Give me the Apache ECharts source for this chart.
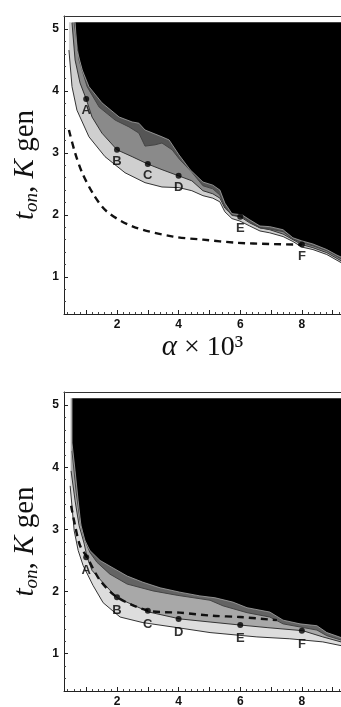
<!DOCTYPE html>
<html><head><meta charset="utf-8">
<script src="https://cdn.jsdelivr.net/npm/echarts@6/dist/echarts.min.js"></script>
<style>html,body{margin:0;padding:0;background:#fff}#c{width:341px;height:707px}</style>
</head><body><div id="c"></div>
<script>
// ---------- axes ----------
const xMin = 0.28, xMax = 9.27;
const yMin = 0.4, yMax = 5.21;
const regionTop = 5.11;
const xTickLabels = [2, 4, 6, 8];
const xMajorTicks = [1, 2, 3, 4, 5, 6, 7, 8, 9];
const yTickLabels = [1, 2, 3, 4, 5];
const xMinorTicks = [0.4,0.6,0.8,1.2,1.4,1.6,1.8,2.2,2.4,2.6,2.8,3.2,3.4,3.6,3.8,4.2,4.4,4.6,4.8,5.2,5.4,5.6,5.8,6.2,6.4,6.6,6.8,7.2,7.4,7.6,7.8,8.2,8.4,8.6,8.8,9.2];
const yMinorTicks = [0.6,0.8,1.2,1.4,1.6,1.8,2.2,2.4,2.6,2.8,3.2,3.4,3.6,3.8,4.2,4.4,4.6,4.8,5.2];

// ---------- top panel ----------
const topKx = [0.64,0.70,0.87,1.09,1.51,2.07,2.49,2.71,2.91,3.46,3.69,4.01,4.37,4.79,5.11,5.34,5.50,5.73,6.06,6.31,6.64,6.96,7.39,7.71,8.00,8.36,8.81,9.14,9.27];
const topKy = [5.11,4.66,4.34,4.07,3.81,3.58,3.50,3.48,3.37,3.26,3.21,2.97,2.73,2.53,2.48,2.40,2.19,2.02,2.00,1.92,1.82,1.81,1.76,1.63,1.58,1.53,1.44,1.35,1.32];
const topDx = [0.61,0.77,1.03,1.42,1.94,2.39,2.71,2.91,3.23,3.46,3.79,4.04,4.43,4.79,5.11,5.34,5.50,5.73,6.06,6.31,6.64,6.96,7.39,7.71,8.00,8.36,8.81,9.27];
const topDy = [5.10,4.50,4.07,3.74,3.53,3.42,3.32,3.11,3.13,3.16,3.05,2.89,2.69,2.47,2.42,2.32,2.13,1.99,1.97,1.89,1.79,1.77,1.73,1.61,1.55,1.50,1.42,1.29];
const topMx = [0.54,0.64,0.80,1.00,1.19,1.51,2.00,2.49,3.00,3.46,4.00,4.43,4.79,5.11,5.34,5.50,5.73,6.00,6.31,6.64,6.96,7.39,7.71,8.00,8.36,8.81,9.27];
const topMy = [5.10,4.50,4.13,3.87,3.58,3.32,3.05,2.94,2.82,2.73,2.63,2.55,2.39,2.34,2.27,2.11,2.00,1.97,1.87,1.79,1.76,1.69,1.60,1.52,1.47,1.39,1.26];
const topLx = [0.44,0.54,0.70,1.09,1.61,2.26,2.91,3.46,4.01,4.43,4.79,5.11,5.34,5.50,5.73,5.99,6.31,6.64,6.96,7.39,7.71,8.00,8.36,8.81,9.27];
const topLy = [4.66,4.07,3.69,3.26,2.94,2.68,2.52,2.45,2.44,2.39,2.31,2.27,2.21,2.05,1.94,1.90,1.82,1.74,1.71,1.65,1.57,1.48,1.44,1.36,1.23];
const topDashX = [0.44,0.64,0.87,1.25,1.68,2.52,3.82,4.79,5.89,6.96,8.00];
const topDashY = [3.37,3.00,2.68,2.32,2.05,1.81,1.65,1.60,1.55,1.53,1.52];
const topPtX = [1, 2, 3, 4, 6, 8];
const topPtY = [3.87, 3.05, 2.82, 2.63, 1.97, 1.52];

// ---------- bottom panel ----------
const botKx = [0.54,0.54,0.64,0.74,0.83,0.96,1.12,1.45,1.87,2.33,2.84,3.40,4.04,4.69,5.18,5.76,6.22,6.96,7.39,7.94,8.49,8.81,9.27];
const botKy = [5.11,4.39,3.94,3.46,3.06,2.82,2.66,2.50,2.38,2.25,2.15,2.06,1.99,1.93,1.90,1.83,1.74,1.67,1.54,1.48,1.45,1.34,1.26];
const botDx = [0.54,0.67,0.80,0.93,1.12,1.35,1.77,2.33,3.17,3.95,5.02,5.44,6.22,6.96,7.39,7.94,8.49,8.81,9.27];
const botDy = [4.26,3.62,3.14,2.86,2.63,2.47,2.28,2.12,2.01,1.94,1.86,1.77,1.66,1.59,1.48,1.43,1.38,1.29,1.22];
const botMx = [0.51,0.64,0.77,0.93,1.03,1.19,1.55,2.00,3.04,4.04,5.02,6.02,6.87,8.03,8.68,9.27];
const botMy = [3.94,3.46,3.06,2.78,2.55,2.34,2.14,1.90,1.67,1.56,1.51,1.46,1.42,1.37,1.27,1.19];
const botLx = [0.48,0.61,0.74,0.90,1.22,1.55,2.10,2.84,3.95,5.02,6.54,7.61,8.68,9.27];
const botLy = [3.70,2.98,2.66,2.42,2.10,1.82,1.59,1.50,1.42,1.34,1.27,1.24,1.19,1.13];
const botDashX = [0.51,0.64,0.80,1.03,1.45,2.00,3.04,4.04,5.11,5.99,7.19];
const botDashY = [3.38,3.06,2.74,2.55,2.18,1.91,1.69,1.66,1.61,1.59,1.54];
const botPtX = [1, 2, 3, 4, 6, 8];
const botPtY = [2.55, 1.91, 1.69, 1.56, 1.46, 1.37];

const pointNames = ['A', 'B', 'C', 'D', 'E', 'F'];

// ---------- build ----------
const zip = (xs, ys) => xs.map((x, i) => [x, ys[i]]);
const sans = "'Liberation Sans', Arial, Helvetica, sans-serif";
const serif = "'Liberation Serif', 'Times New Roman', serif";

function band(xs, ys, fill, lineColor, lineW, g) {
  return { type: 'line', xAxisIndex: g, yAxisIndex: g, data: zip(xs, ys), symbol: 'none',
    lineStyle: { color: lineColor, width: lineW }, areaStyle: { color: fill, origin: 'end', opacity: 1 },
    silent: true, animation: false };
}
function dashed(xs, ys, g) {
  return { type: 'line', xAxisIndex: g, yAxisIndex: g, data: zip(xs, ys), symbol: 'none', smooth: 0.3,
    lineStyle: { color: '#111', width: 2.4, type: [7, 5] }, silent: true, animation: false, z: 5 };
}
function pts(xs, ys, g, dist) {
  return { type: 'scatter', xAxisIndex: g, yAxisIndex: g, symbolSize: 6, itemStyle: { color: '#000' },
    data: xs.map((x, i) => ({ value: [x, ys[i]], name: pointNames[i] })),
    label: { show: true, position: 'bottom', distance: dist, formatter: '{b}', color: '#000',
      fontFamily: sans, fontWeight: 'bold', fontSize: 13, textBorderWidth: 0 }, silent: true, animation: false, z: 6 };
}
function ceilStrip(g) {
  return { type: 'line', xAxisIndex: g, yAxisIndex: g, data: [[xMin, regionTop], [xMax, regionTop]], symbol: 'none',
    lineStyle: { width: 0 }, areaStyle: { color: '#fff', origin: 'end', opacity: 1 }, silent: true, animation: false };
}

const yName = '{i|t}{s|on}{r|, }{i|K}{r| gen}';
const nameRich = {
  i: { fontFamily: serif, fontStyle: 'italic', fontSize: 29, color: '#111' },
  s: { fontFamily: serif, fontStyle: 'italic', fontSize: 19, color: '#111', padding: [14, 0, 0, 0] },
  r: { fontFamily: serif, fontSize: 29, color: '#111' }
};

const grids = [
  { left: 64, top: 16, right: 0, height: 298, outerBoundsMode: 'none' },
  { left: 64, top: 392, right: 0, height: 299, outerBoundsMode: 'none' }
];
const xAxes = [], yAxes = [];
[0, 1].forEach(g => {
  xAxes.push({ type: 'value', gridIndex: g, position: 'bottom', min: xMin, max: xMax, z: 10,
    splitLine: { show: false },
    axisLine: { onZero: false, lineStyle: { color: '#222', width: 1 } },
    axisTick: { inside: true, length: 4, customValues: xMajorTicks, lineStyle: { color: '#222' } },
    axisLabel: { customValues: xTickLabels, margin: 5, fontFamily: sans, fontWeight: 'bold', fontSize: 12, color: '#111' },
    name: g === 0 ? '{i|α}{r| × 10³}' : '', nameLocation: 'middle', nameGap: 19,
    nameTextStyle: { rich: { i: { fontFamily: serif, fontStyle: 'italic', fontSize: 29, color: '#111' },
      r: { fontFamily: serif, fontSize: 28, color: '#111' } } } });
  yAxes.push({ type: 'value', gridIndex: g, position: 'left', min: yMin, max: yMax, z: 10,
    splitLine: { show: false },
    axisLine: { onZero: false, lineStyle: { color: '#222', width: 1 } },
    axisTick: { inside: true, length: 4, customValues: yTickLabels, lineStyle: { color: '#222' } },
    axisLabel: { customValues: yTickLabels, margin: 5, fontFamily: sans, fontWeight: 'bold', fontSize: 12, color: '#111' },
    name: yName, nameLocation: 'middle', nameGap: 18, nameTextStyle: { rich: nameRich } });
});
[0, 1].forEach(g => {
  xAxes.push({ type: 'value', gridIndex: g, position: 'bottom', min: xMin, max: xMax, z: 10,
    splitLine: { show: false }, axisLine: { show: false, onZero: false },
    axisTick: { inside: true, length: 2, customValues: xMinorTicks, lineStyle: { color: '#444' } },
    axisLabel: { show: false } });
  yAxes.push({ type: 'value', gridIndex: g, position: 'left', min: yMin, max: yMax, z: 10,
    splitLine: { show: false }, axisLine: { show: false, onZero: false },
    axisTick: { inside: true, length: 2, customValues: yMinorTicks, lineStyle: { color: '#444' } },
    axisLabel: { show: false } });
});
[0, 1].forEach(g => {
  xAxes.push({ type: 'value', gridIndex: g, position: 'top', min: xMin, max: xMax, z: 10,
    splitLine: { show: false }, axisLine: { onZero: false, lineStyle: { color: '#333', width: 1 } },
    axisTick: { show: false }, axisLabel: { show: false } });
});

const series = [
  band(topLx, topLy, '#cfcfcf', '#333', 1, 0),
  band(topMx, topMy, '#8a8a8a', '#333', 1, 0),
  band(topDx, topDy, '#555555', '#444', 1, 0),
  band(topKx, topKy, '#000', '#aaa', 0.8, 0),
  ceilStrip(0),
  dashed(topDashX, topDashY, 0),
  pts(topPtX, topPtY, 0, 2),
  band(botLx, botLy, '#dddddd', '#333', 1, 1),
  band(botMx, botMy, '#a8a8a8', '#333', 1, 1),
  band(botDx, botDy, '#636363', '#444', 1, 1),
  band(botKx, botKy, '#000', '#aaa', 0.8, 1),
  ceilStrip(1),
  dashed(botDashX, botDashY, 1),
  pts(botPtX, botPtY, 1, 4)
];

const chart = echarts.init(document.getElementById('c'), null, { renderer: 'canvas' });
chart.setOption({ animation: false, backgroundColor: '#fff', grid: grids, xAxis: xAxes, yAxis: yAxes, series: series });
</script></body></html>
